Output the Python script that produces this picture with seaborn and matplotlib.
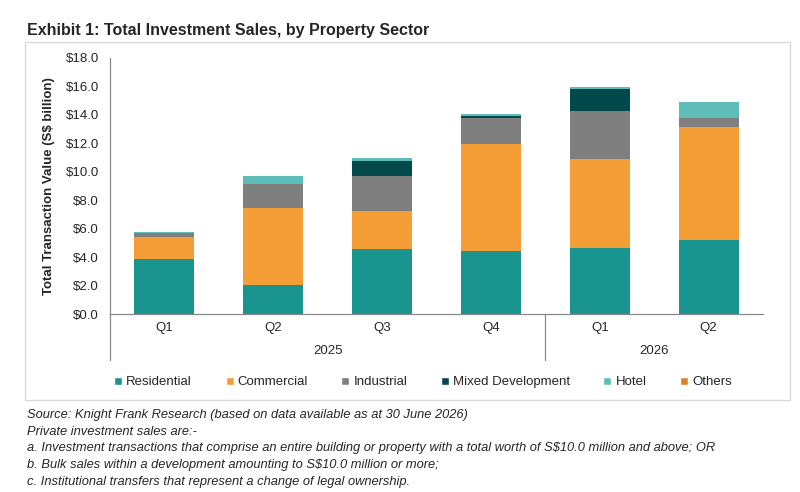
import pandas as pd
import matplotlib.pyplot as plt
import seaborn as sns
from matplotlib.patches import Rectangle
from matplotlib.lines import Line2D

# Chart data (S$ billion)
periods = ["Q1 2025", "Q2 2025", "Q3 2025", "Q4 2025", "Q1 2026", "Q2 2026"]
quarters = ["Q1", "Q2", "Q3", "Q4", "Q1", "Q2"]
years = ["2025", "2026"]
residential = [3.87, 2.04, 4.55, 4.43, 4.66, 5.23]
commercial = [1.53, 5.41, 2.72, 7.52, 6.26, 7.90]
industrial = [0.27, 1.69, 2.46, 1.83, 3.33, 0.63]
mixed_dev = [0.00, 0.00, 1.05, 0.14, 1.55, 0.00]
hotel = [0.12, 0.56, 0.17, 0.14, 0.14, 1.17]
others = [0.00, 0.00, 0.02, 0.00, 0.05, 0.00]

sectors = ["Residential", "Commercial", "Industrial", "Mixed Development", "Hotel", "Others"]
colors = ["#1a948e", "#f59e37", "#7f7f7f", "#02494b", "#5fbdb9", "#d9822b"]

data = pd.DataFrame({
    "Period": periods,
    "Residential": residential,
    "Commercial": commercial,
    "Industrial": industrial,
    "Mixed Development": mixed_dev,
    "Hotel": hotel,
    "Others": others,
})

sns.set_style("white")
plt.rcParams["font.family"] = ["Liberation Sans", "DejaVu Sans"]

fig = plt.figure(figsize=(8, 4.92), dpi=100)
ax = fig.add_axes([110 / 800, 1 - 314 / 492, (763 - 110) / 800, (314 - 58) / 492])

# Stacked bars, one sector at a time
bottom = pd.Series([0.0] * len(periods))
for sector, color in zip(sectors, colors):
    sns.barplot(x=data["Period"], y=data[sector], bottom=bottom.values, color=color,
                width=0.55, order=periods, ax=ax, saturation=1, linewidth=0)
    bottom = bottom + data[sector]

ax.set_ylim(0, 18)
ax.set_xlim(-0.5, len(periods) - 0.5)
ax.set_yticks(range(0, 19, 2))
ax.set_yticklabels([f"${v:.1f}" for v in range(0, 19, 2)], fontsize=9.5)
ax.set_xticks(range(len(periods)))
ax.set_xticklabels(quarters, fontsize=9.5)
ax.tick_params(axis="x", length=0, pad=6)
ax.tick_params(axis="y", length=0, pad=8)
ax.set_xlabel("")
ax.set_ylabel("Total Transaction Value (S$ billion)", fontsize=9.5, fontweight="bold", labelpad=8)

for side in ["top", "right"]:
    ax.spines[side].set_visible(False)
for side in ["left", "bottom"]:
    ax.spines[side].set_color("#898989")
    ax.spines[side].set_linewidth(0.9)

# Year grouping under the quarter labels
drop = -(360 - 314) / 256
trans = ax.get_xaxis_transform()
for xpos in [-0.5, 3.5]:
    ax.plot([xpos, xpos], [0, drop], color="#898989", lw=0.9, transform=trans, clip_on=False)
ax.text(1.5, -(351 - 314) / 256, years[0], transform=trans, ha="center", va="center", fontsize=9.5)
ax.text(4.5, -(351 - 314) / 256, years[1], transform=trans, ha="center", va="center", fontsize=9.5)

# Legend
handles = [Line2D([0], [0], marker="s", color="w", markerfacecolor=c, markersize=6, label=s)
           for s, c in zip(sectors, colors)]
fig.legend(handles=handles, loc="center", bbox_to_anchor=(423 / 800, 1 - 382 / 492), ncol=6,
           frameon=False, fontsize=9.5, handlelength=0.6, handletextpad=0.3, columnspacing=2.55)

# Outer frame
fig.patches.append(Rectangle((25 / 800, 1 - 400 / 492), (790 - 25) / 800, (400 - 42) / 492,
                             transform=fig.transFigure, fill=False, edgecolor="#d9d9d9", lw=1))

fig.text(27 / 800, 1 - 30 / 492, "Exhibit 1: Total Investment Sales, by Property Sector",
         fontsize=11.5, fontweight="bold", va="center", ha="left")

notes = [
    "Source: Knight Frank Research (based on data available as at 30 June 2026)",
    "Private investment sales are:-",
    "a. Investment transactions that comprise an entire building or property with a total worth of S$10.0 million and above; OR",
    "b. Bulk sales within a development amounting to S$10.0 million or more;",
    "c. Institutional transfers that represent a change of legal ownership.",
]
for i, line in enumerate(notes):
    fig.text(27 / 800, 1 - (415 + i * 16.7) / 492, line, fontsize=9.3, style="italic",
             va="center", ha="left")

fig.savefig("out.png", dpi=100)
